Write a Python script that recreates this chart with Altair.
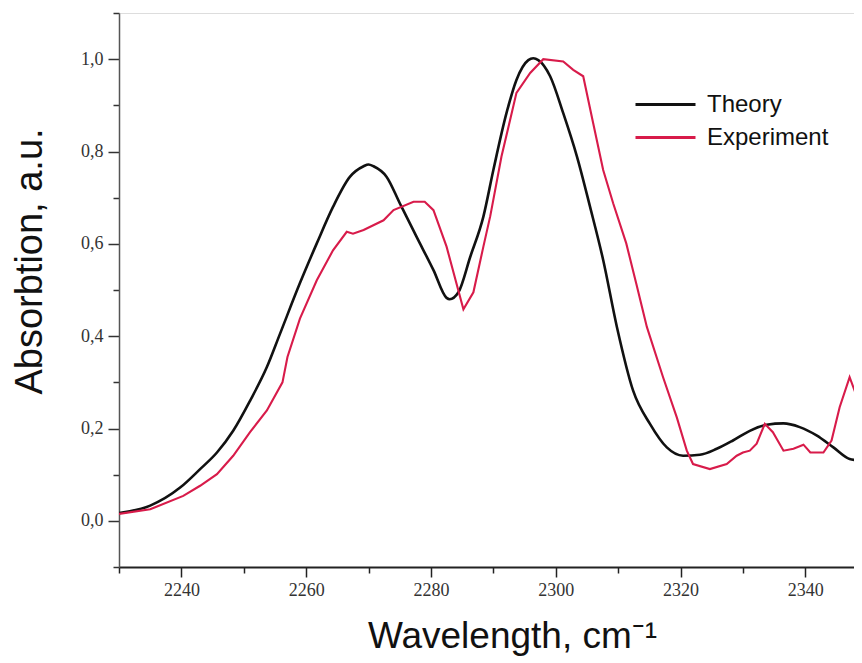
import altair as alt
import pandas as pd

# Theory curve (wavenumber, absorption)
theory_wn = [2230, 2235, 2239.8, 2243, 2245.7, 2248.3, 2251, 2253.7, 2255.8, 2259,
             2261.7, 2264.3, 2267, 2269.2, 2270.0, 2270.8, 2272.9, 2275, 2277.7, 2280.4,
             2282.5, 2283.0, 2284.4, 2286.3, 2288.4, 2290, 2292.1, 2293.7, 2295.6, 2296.4,
             2297.2, 2299.1, 2301.2, 2303.4, 2305.5, 2307.6, 2309.8, 2312.4, 2315.1, 2317.8,
             2320.4, 2323.1, 2325.8, 2328.4, 2331.1, 2333.8, 2336.5, 2339.1, 2341.8, 2344.5,
             2347.1, 2349.1]
theory_abs = [0.017, 0.033, 0.072, 0.112, 0.148, 0.195, 0.26, 0.333, 0.405, 0.515,
              0.601, 0.680, 0.745, 0.768, 0.772, 0.768, 0.745, 0.688, 0.615, 0.543,
              0.483, 0.480, 0.495, 0.572, 0.659, 0.760, 0.883, 0.955, 0.998, 1.002,
              0.998, 0.963, 0.883, 0.789, 0.680, 0.565, 0.420, 0.282, 0.210, 0.159,
              0.141, 0.143, 0.156, 0.174, 0.195, 0.208, 0.211, 0.203, 0.185, 0.159,
              0.134, 0.130]

# Experiment curve
exp_wn = [2230, 2235, 2240.3, 2243, 2245.7, 2248.3, 2251, 2253.7, 2256.2, 2257.0,
          2259, 2261.7, 2264.3, 2266.5, 2267.5, 2269.2, 2272.4, 2274, 2277.2, 2279,
          2280.4, 2282.5, 2285.2, 2286.8, 2288.4, 2289.5, 2291.3, 2293.7, 2295.9, 2298,
          2301.2, 2302.8, 2304.4, 2306, 2307.6, 2309.2, 2311.3, 2312.9, 2314.6, 2317.2,
          2319.4, 2321, 2322, 2324.7, 2327.4, 2329, 2330, 2331.1, 2332.2, 2333.5,
          2334.8, 2336.5, 2338.1, 2339.7, 2340.8, 2342.9, 2344.2, 2345.5, 2347.1, 2349.1]
exp_abs = [0.015, 0.025, 0.054, 0.076, 0.101, 0.141, 0.192, 0.239, 0.300, 0.355,
           0.438, 0.521, 0.586, 0.626, 0.622, 0.630, 0.651, 0.673, 0.691, 0.691,
           0.673, 0.594, 0.458, 0.495, 0.594, 0.660, 0.789, 0.927, 0.970, 1.0,
           0.995, 0.977, 0.963, 0.861, 0.760, 0.688, 0.601, 0.514, 0.420, 0.311,
           0.224, 0.152, 0.123, 0.112, 0.123, 0.141, 0.148, 0.152, 0.167, 0.210,
           0.192, 0.152, 0.156, 0.165, 0.148, 0.148, 0.174, 0.246, 0.311, 0.239]

series_names = ["Theory", "Experiment"]
series_colors = ["#111111", "#d81b4a"]

x_ticks = [2230, 2240, 2250, 2260, 2270, 2280, 2290, 2300, 2310, 2320, 2330, 2340]
y_ticks = [-0.1, 0.0, 0.1, 0.2, 0.3, 0.4, 0.5, 0.6, 0.7, 0.8, 0.9, 1.0, 1.1]

theory_df = pd.DataFrame({"series": series_names[0], "wn": theory_wn, "abs": theory_abs})
exp_df = pd.DataFrame({"series": series_names[1], "wn": exp_wn, "abs": exp_abs})

x_axis = alt.Axis(
    values=x_ticks,
    labelExpr="datum.value % 20 === 0 ? '' + datum.value : ''",
    tickSize={"condition": {"test": "datum.value % 20 === 0", "value": 10}, "value": 6},
    title="Wavelength, cm⁻¹",
    titleFont="Liberation Sans",
    titleFontSize=37,
    titleFontWeight="normal",
    titleColor="#111111",
    titleX=393,
    titleY=80,
    titleBaseline="alphabetic",
    titleAnchor="middle",
    labelFont="Liberation Serif",
    labelFontSize=18,
    labelColor="#333333",
    labelPadding=4,
    labelOverlap=False,
    labelFlush=False,
    domainColor="#222222",
    domainWidth=2,
    tickColor="#222222",
    tickWidth=1.5,
    grid=False,
)

y_axis = alt.Axis(
    values=y_ticks,
    labelExpr="round(datum.value*10) % 2 === 0 ? replace(format(datum.value, '.1f'), '.', ',') : ''",
    tickSize={"condition": {"test": "round(datum.value*10) % 2 === 0", "value": 11}, "value": 6},
    title="Absorbtion, a.u.",
    titleFont="Liberation Sans",
    titleFontSize=38,
    titleFontWeight="normal",
    titleColor="#111111",
    titleAngle=270,
    titleX=-89,
    titleY=248,
    titleBaseline="middle",
    titleAlign="center",
    labelFont="Liberation Serif",
    labelFontSize=18,
    labelColor="#333333",
    labelPadding=5,
    labelOverlap=False,
    labelFlush=False,
    domainColor="#555555",
    domainWidth=1.5,
    tickColor="#333333",
    tickWidth=1.5,
    grid=False,
)

x_enc = alt.X("wn:Q", scale=alt.Scale(domain=[2230, 2347.8], nice=False, zero=False), axis=x_axis)
y_enc = alt.Y("abs:Q", scale=alt.Scale(domain=[-0.1, 1.1], nice=False, zero=False), axis=y_axis)


def series_color(i, legend_y):
    return alt.Color(
        "series:N",
        scale=alt.Scale(domain=[series_names[i]], range=[series_colors[i]]),
        legend=alt.Legend(
            orient="none",
            legendX=515,
            legendY=legend_y,
            title=None,
            symbolType="stroke",
            symbolSize=3600,
            symbolStrokeWidth=3,
            labelFont="Liberation Sans",
            labelFontSize=24,
            labelColor="#111111",
            labelOffset=10,
            padding=0,
        ),
    )


theory_line = alt.Chart(theory_df).mark_line(
    strokeWidth=2.6, clip=True, interpolate="monotone"
).encode(x=x_enc, y=y_enc, color=series_color(0, 60))

exp_line = alt.Chart(exp_df).mark_line(
    strokeWidth=2.1, clip=True
).encode(x=x_enc, y=y_enc, color=series_color(1, 93))

chart = alt.layer(theory_line, exp_line).resolve_scale(color="independent").properties(
    width=735,
    height=554,
    autosize=alt.AutoSizeParams(type="none"),
    padding={"left": 111, "top": 5, "right": 0, "bottom": 95},
).configure_view(stroke=None).configure(background="white")

chart.save("out.html", embed_options={"renderer": "svg", "actions": False})
